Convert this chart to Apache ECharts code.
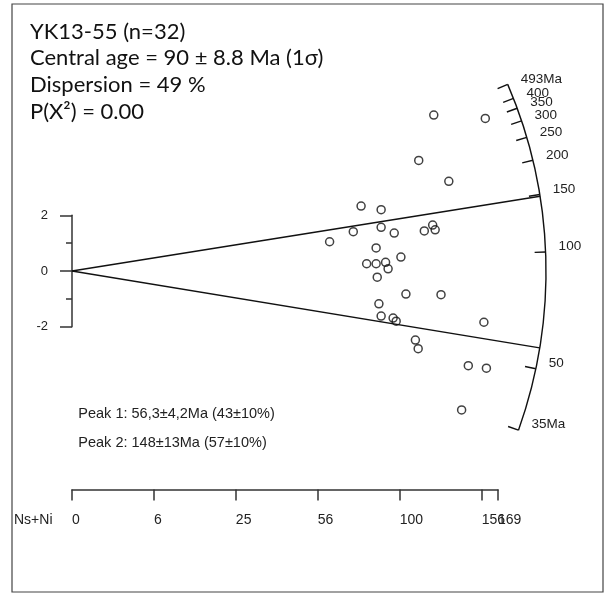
<!DOCTYPE html>
<html>
<head>
<meta charset="utf-8">
<script src="https://cdn.jsdelivr.net/npm/echarts@6/dist/echarts.min.js"></script>
<style>
html,body{margin:0;padding:0;background:#fff;}
#chart{width:606px;height:595px;}
</style>
</head>
<body>
<div id="chart"></div>
<script>
// ---- data ----
const titleLines = ['YK13-55 (n=32)', 'Central age = 90 \u00b1 8.8 Ma (1\u03c3)', 'Dispersion = 49 %', 'P(X\u00b2) = 0.00'];
const peakLabels = ['Peak 1: 56,3\u00b14,2Ma (43\u00b110%)', 'Peak 2: 148\u00b113Ma (57\u00b110%)'];
const peakAges = [56.3, 148];
const arcTickAges = [35, 50, 100, 150, 200, 250, 300, 350, 400, 493];
const arcTickLabels = ['35Ma', '50', '100', '150', '200', '250', '300', '350', '400', '493Ma'];
// grain precision (x) and standardised estimate (y)
const precision = [12.99, 14.84, 12.45, 13.53, 10.38, 11.10, 10.10, 11.10, 11.57, 12.65, 12.95, 13.04, 9.25, 10.92, 11.81, 10.58,
                   10.92, 11.26, 11.35, 10.96, 11.99, 13.25, 11.02, 11.10, 11.53, 11.64, 14.79, 12.33, 12.43, 14.23, 14.88, 13.99];
const zscore = [5.60, 5.48, 3.97, 3.22, 2.33, 2.20, 1.41, 1.57, 1.36, 1.44, 1.65, 1.48, 1.05, 0.83, 0.50, 0.26,
                0.26, 0.31, 0.08, -0.22, -0.83, -0.85, -1.18, -1.62, -1.69, -1.80, -1.84, -2.48, -2.79, -3.40, -3.49, -4.99];
const yTickMin = -2, yTickMax = 2;
const nsNiTickPos = [0, 2.5, 5, 7.5, 10, 12.5, 13];      // sqrt(Ns+Ni)
const nsNiTickLabels = ['0', '6', '25', '56', '100', '156', '169'];

// radial scale (age -> slope)
const TK = 0.05, TA = 1.75, TREF = 88.6;
function ageSlope(t) { return TA * (Math.atan(Math.sqrt(TK * t)) - Math.atan(Math.sqrt(TK * TREF))); }
const arcRadius = 17.02;

// ---- layout ----
const PX = 27.85;           // pixels per unit
const OX = 72, OY = 271;    // origin
const FONT = '"Liberation Sans", Arial, sans-serif';

const chart = echarts.init(document.getElementById('chart'), null, {renderer: 'canvas'});

const option = {
  animation: false,
  backgroundColor: '#fff',
  grid: [
    {left: OX, top: OY - 9 * PX, width: 19 * PX, height: 18 * PX},
    {left: OX, top: OY - 2 * PX, width: 10, height: 4 * PX},
    {left: OX, top: 488.5, width: 13 * 32.77, height: 1}
  ],
  xAxis: [
    {gridIndex: 0, type: 'value', min: 0, max: 19, show: false},
    {gridIndex: 1, type: 'value', min: 0, max: 1, show: false},
    {gridIndex: 2, type: 'value', min: 0, max: 13, position: 'bottom',
     axisLine: {show: true, onZero: false, lineStyle: {color: '#333', width: 1.5}},
     axisTick: {show: true, length: 11, customValues: nsNiTickPos, lineStyle: {color: '#333', width: 1.5}},
     axisLabel: {show: false},
     splitLine: {show: false}}
  ],
  yAxis: [
    {gridIndex: 0, type: 'value', min: -9, max: 9, show: false},
    {gridIndex: 1, type: 'value', min: yTickMin, max: yTickMax, interval: 2, position: 'left',
     axisLine: {show: true, lineStyle: {color: '#333', width: 1.5}},
     axisTick: {show: true, length: 12, lineStyle: {color: '#333', width: 1.5}},
     minorTick: {show: true, splitNumber: 2, length: 6, lineStyle: {color: '#333', width: 1.5}},
     axisLabel: {margin: 24, fontSize: 13, color: '#222', fontFamily: FONT},
     splitLine: {show: false}, minorSplitLine: {show: false}},
    {gridIndex: 2, type: 'value', min: 0, max: 1, show: false}
  ],
  series: [
    {
      type: 'custom', xAxisIndex: 0, yAxisIndex: 0, data: [[0, 0]], silent: true,
      renderItem: function (params, api) {
        const c = api.coord([0, 0]);
        const r = api.size([arcRadius, 0])[0];
        const a1 = -Math.atan(ageSlope(arcTickAges[arcTickAges.length - 1]));
        const a2 = -Math.atan(ageSlope(arcTickAges[0]));
        return {type: 'arc', shape: {cx: c[0], cy: c[1], r: r, startAngle: a1, endAngle: a2, clockwise: true},
                style: {stroke: '#111', fill: null, lineWidth: 1.4}};
      }
    },
    {
      type: 'custom', xAxisIndex: 0, yAxisIndex: 0, silent: true,
      data: arcTickAges.map(function (a, i) { return [a, i]; }),
      renderItem: function (params, api) {
        const age = api.value(0), idx = api.value(1);
        const th = Math.atan(ageSlope(age));
        const p = api.coord([arcRadius * Math.cos(th), arcRadius * Math.sin(th)]);
        const L = 11;
        const q = [p[0] - L * Math.cos(th), p[1] + L * Math.sin(th)];
        return {type: 'group', children: [
          {type: 'line', shape: {x1: q[0], y1: q[1], x2: p[0], y2: p[1]}, style: {stroke: '#111', lineWidth: 1.4}},
          {type: 'text', x: p[0] + 13, y: p[1] - 5.5,
           style: {text: arcTickLabels[idx], fill: '#222', font: '13.5px ' + FONT, align: 'left', verticalAlign: 'middle'}}
        ]};
      }
    },
    {
      type: 'custom', xAxisIndex: 0, yAxisIndex: 0, silent: true,
      data: peakAges.map(function (a) { return [a]; }),
      renderItem: function (params, api) {
        const th = Math.atan(ageSlope(api.value(0)));
        const o = api.coord([0, 0]);
        const p = api.coord([arcRadius * Math.cos(th), arcRadius * Math.sin(th)]);
        return {type: 'line', shape: {x1: o[0], y1: o[1], x2: p[0], y2: p[1]}, style: {stroke: '#111', lineWidth: 1.4}};
      }
    },
    {
      type: 'scatter', xAxisIndex: 0, yAxisIndex: 0, silent: true,
      data: precision.map(function (x, i) { return [x, zscore[i]]; }),
      symbol: 'circle', symbolSize: 8,
      itemStyle: {color: 'rgba(0,0,0,0)', borderColor: '#111', borderWidth: 1.5}
    },
    {
      // bottom axis labels (Ns+Ni), placed through the bottom axis scale
      type: 'custom', xAxisIndex: 2, yAxisIndex: 2, silent: true, clip: false,
      data: nsNiTickPos.map(function (v, i) { return [v, i]; }),
      renderItem: function (params, api) {
        const p = api.coord([api.value(0), 0]);
        return {type: 'text', x: p[0], y: p[1] + 31,
                style: {text: nsNiTickLabels[api.value(1)], fill: '#222', font: '14px ' + FONT, align: 'left', verticalAlign: 'middle'}};
      }
    }
  ],
  graphic: [
    {type: 'rect', shape: {x: 12, y: 4, width: 591, height: 588}, style: {fill: null, stroke: '#444', lineWidth: 1.2}, silent: true},
  ].concat(titleLines.map(function (t, i) {
    return {type: 'text', x: 30, y: 31.7 + i * 26.7, silent: true,
            style: {text: t, fill: '#111', font: '22px Lato, "Liberation Sans", sans-serif', verticalAlign: 'middle'}};
  })).concat(peakLabels.map(function (t, i) {
    return {type: 'text', x: 78.3, y: 414 + i * 29.3, silent: true,
            style: {text: t, fill: '#222', font: '14.5px ' + FONT, verticalAlign: 'middle'}};
  })).concat([
    {type: 'text', x: 14, y: 520, silent: true,
     style: {text: 'Ns+Ni', fill: '#222', font: '14px ' + FONT, verticalAlign: 'middle'}}
  ])
};
chart.setOption(option);
</script>
</body>
</html>
